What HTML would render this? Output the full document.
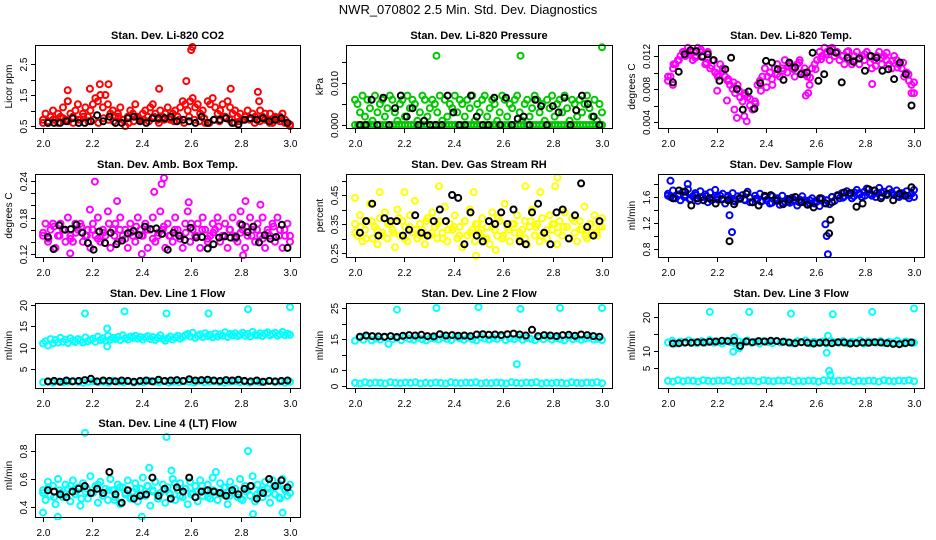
<!DOCTYPE html>
<html><head><meta charset="utf-8"><title>NWR_070802 Diagnostics</title>
<style>
html,body{margin:0;padding:0;background:#fff;}
svg{display:block;font-family:"Liberation Sans",sans-serif;}
</style></head>
<body>
<svg id="chart" width="936" height="540" viewBox="0 0 936 540" xmlns="http://www.w3.org/2000/svg">
<text x="468" y="14" text-anchor="middle" font-size="13" fill="#000">NWR_070802  2.5 Min. Std. Dev. Diagnostics</text>
</svg>
<script>
// ---- data ----
const xTicks = [2.0, 2.2, 2.4, 2.6, 2.8, 3.0];
const xTickLabels = ["2.0", "2.2", "2.4", "2.6", "2.8", "3.0"];

const co2Red = [0.7,0.9,0.6,0.8,1.0,0.7,0.9,0.8,1.1,0.7,1.3,0.9,0.8,1.0,1.2,0.7,0.9,1.1,0.8,1.0,1.2,1.4,1.3,1.5,1.1,1.5,1.2,0.9,1.0,0.8,0.9,1.1,0.7,0.5,0.8,1.0,0.9,1.2,0.8,0.7,0.9,1.0,0.8,1.1,1.2,0.9,0.7,1.0,0.8,0.9,1.1,0.7,0.9,1.0,0.8,1.1,1.3,1.2,1.0,1.3,1.4,1.1,1.2,0.9,1.0,0.6,1.3,1.2,1.4,1.1,0.9,1.0,1.2,0.8,1.3,1.1,0.9,1.0,0.8,0.9,0.7,0.8,1.0,0.7,0.9,0.8,0.7,1.0,0.8,0.9,0.7,0.9,0.6,0.8,0.7,0.8,0.9,0.7,0.6,0.5];
const co2RedLow = [0.6,0.65,0.7,0.6,0.75,0.65,0.6,0.7,0.8,0.65,0.7,0.6,0.75,0.7,0.65,0.8,0.7,0.6,0.65,0.75,0.7,0.65,0.8,0.6,0.7,0.75,0.65,0.7,0.6,0.8,0.7,0.65,0.75,0.6,0.7,0.65,0.8,0.7,0.6,0.65,0.7,0.75,0.6,0.65,0.7,0.6,0.75,0.65,0.6,0.55];
const co2OutX = [2.1,2.19,2.23,2.265,2.47,2.58,2.60,2.605,2.76,2.87,2.875,2.10];
const co2OutY = [1.65,1.7,1.85,1.85,1.7,1.95,2.95,3.05,1.7,1.6,1.3,1.3];
const co2Black = [0.6,0.6,0.6,0.65,0.75,0.6,0.6,0.65,0.85,0.65,0.8,0.6,0.6,0.75,0.8,0.65,0.6,0.75,0.75,0.75,0.8,0.65,0.7,0.65,0.6,0.8,0.6,0.7,0.7,0.75,0.6,0.55,0.7,0.75,0.7,0.75,0.65,0.7,0.75,0.6];

const presGreen = [0.006,0.005,0.003,0.007,0.002,0.006,0.004,0.001,0.007,0.003,0.005,0.006,0.002,0.004,0.007,0.006,0.003,0.001,0.005,0.006,0.002,0.007,0.004,0.006,0.005,0.001,0.003,0.007,0.006,0.002,0.004,0.006,0.005,0.003,0.007,0.001,0.006,0.002,0.005,0.004,0.007,0.003,0.006,0.005,0.002,0.006,0.004,0.007,0.001,0.005,0.003,0.006,0.007,0.002,0.004,0.006,0.005,0.001,0.003,0.007,0.006,0.002,0.005,0.004,0.006,0.007,0.003,0.001,0.005,0.006,0.002,0.004,0.007,0.006,0.003,0.005,0.001,0.006,0.004,0.007,0.002,0.005,0.006,0.003,0.007,0.004,0.001,0.006,0.005,0.002,0.006,0.003,0.005,0.007,0.004,0.002,0.006,0.001,0.005,0.003];
const presGreenZero = [0,0,0,0,0,0,0,0,0,0,0,0,0,0,0,0,0,0,0,0,0,0,0,0,0,0,0,0,0,0,0,0,0,0,0,0,0,0,0,0,0,0,0,0,0,0,0,0,0,0,0,0,0,0,0,0,0,0,0,0,0,0,0,0,0,0,0,0,0,0,0,0,0,0,0,0,0,0,0,0];
const presOutX = [2.33,2.67,3.0];
const presOutY = [0.0165,0.0165,0.0185];
const presBlack = [0,0,0.006,0,0.0065,0,0.004,0.007,0.002,0.004,0,0.001,0,0,0,0.007,0.003,0,0,0.007,0.002,0,0,0.0065,0,0.0065,0,0.0015,0.002,0,0.006,0.0045,0,0.0045,0.003,0.0065,0,0.0035,0.007,0.005,0.002,0];

const tempMag = [0.009,0.0095,0.0105,0.011,0.0115,0.012,0.0125,0.012,0.013,0.0125,0.0115,0.012,0.013,0.0125,0.012,0.011,0.0125,0.0105,0.0115,0.01,0.0095,0.011,0.0105,0.0095,0.009,0.0085,0.008,0.0075,0.0085,0.007,0.0065,0.0075,0.007,0.006,0.0055,0.0065,0.0085,0.009,0.0095,0.0105,0.0095,0.01,0.0085,0.0105,0.011,0.0095,0.0105,0.0115,0.01,0.011,0.0105,0.0095,0.011,0.0115,0.01,0.0105,0.0095,0.0085,0.0105,0.011,0.0115,0.0125,0.012,0.013,0.0125,0.0115,0.013,0.012,0.0125,0.0115,0.012,0.011,0.0125,0.0115,0.011,0.012,0.0125,0.011,0.012,0.0115,0.0125,0.012,0.0105,0.0115,0.012,0.0125,0.011,0.012,0.0115,0.011,0.0105,0.012,0.0115,0.011,0.0105,0.0095,0.01,0.009,0.0085,0.0075];
const tempMag2 = [0.0095,0.011,0.0115,0.0125,0.0122,0.0118,0.0128,0.0112,0.0108,0.0098,0.0102,0.0092,0.0088,0.0078,0.0072,0.0068,0.0062,0.0078,0.0082,0.0092,0.0098,0.0102,0.0108,0.0104,0.0112,0.0098,0.0094,0.0104,0.0116,0.0122,0.0128,0.0124,0.012,0.0126,0.0114,0.0118,0.0122,0.0112,0.0108,0.0118,0.0124,0.0114,0.0106,0.0112,0.0098,0.0088];
const tempOutX = [2.27,2.28,2.2,2.31,2.32,2.24,2.56,2.57,2.83,2.99,2.02];
const tempOutY = [0.0055,0.0045,0.0078,0.0047,0.0041,0.0066,0.0072,0.0075,0.0086,0.0075,0.0085];
const tempBlack = [0.0088,0.0101,0.0122,0.0127,0.0126,0.0119,0.0122,0.0115,0.0090,0.0104,0.0118,0.0080,0.0055,0.0077,0.0056,0.0087,0.0114,0.0112,0.0104,0.0091,0.0112,0.0106,0.0098,0.0100,0.0124,0.0090,0.0098,0.0126,0.0124,0.0088,0.0118,0.0113,0.0117,0.0102,0.0120,0.0118,0.0102,0.0104,0.0092,0.0112,0.0098,0.0060];

const ambMag = [0.15,0.17,0.14,0.16,0.17,0.13,0.15,0.17,0.16,0.14,0.18,0.15,0.14,0.17,0.16,0.17,0.14,0.15,0.16,0.13,0.17,0.15,0.18,0.14,0.16,0.15,0.19,0.13,0.16,0.17,0.14,0.18,0.15,0.16,0.13,0.17,0.15,0.14,0.18,0.16,0.15,0.17,0.13,0.16,0.18,0.14,0.15,0.19,0.16,0.13,0.17,0.15,0.14,0.18,0.16,0.15,0.13,0.17,0.19,0.14,0.16,0.15,0.17,0.13,0.18,0.16,0.14,0.15,0.17,0.16,0.18,0.14,0.15,0.17,0.13,0.16,0.18,0.15,0.14,0.17,0.16,0.13,0.15,0.18,0.16,0.14,0.17,0.15,0.18,0.13,0.16,0.15,0.17,0.14,0.18,0.16,0.13,0.15,0.17,0.14];
const ambMag2 = [0.155,0.145,0.165,0.15,0.16,0.145,0.155,0.165,0.15,0.16,0.145,0.155,0.17,0.15,0.16,0.145,0.155,0.165,0.15,0.16,0.145,0.155,0.165,0.15,0.16,0.145,0.155,0.17,0.15,0.16,0.145,0.155,0.165,0.15,0.16,0.145,0.155,0.165,0.15,0.16,0.145,0.155,0.165,0.15,0.16,0.15];
const ambOutX = [2.21,2.49,2.48,2.45,2.3,2.82,2.59,2.88,2.19,2.8,2.4,2.11,2.81];
const ambOutY = [0.239,0.245,0.235,0.222,0.207,0.207,0.205,0.201,0.193,0.19,0.12,0.121,0.118];
const ambBlack = [0.148,0.128,0.167,0.16,0.161,0.168,0.155,0.138,0.127,0.157,0.138,0.155,0.136,0.142,0.154,0.158,0.151,0.165,0.161,0.162,0.153,0.127,0.155,0.15,0.143,0.163,0.147,0.148,0.129,0.136,0.147,0.149,0.147,0.148,0.168,0.156,0.165,0.139,0.151,0.145,0.148,0.168,0.13];

const rhYel = [0.35,0.31,0.38,0.29,0.33,0.36,0.42,0.30,0.34,0.28,0.37,0.32,0.39,0.30,0.35,0.33,0.27,0.40,0.31,0.36,0.34,0.29,0.38,0.32,0.43,0.30,0.35,0.33,0.28,0.37,0.31,0.39,0.34,0.30,0.36,0.32,0.41,0.29,0.35,0.33,0.38,0.30,0.34,0.27,0.36,0.31,0.40,0.33,0.29,0.35,0.32,0.37,0.30,0.34,0.28,0.39,0.33,0.31,0.36,0.30,0.42,0.34,0.29,0.35,0.32,0.38,0.30,0.33,0.36,0.28,0.34,0.40,0.31,0.35,0.29,0.37,0.32,0.30,0.38,0.33,0.35,0.28,0.36,0.31,0.39,0.34,0.30,0.37,0.32,0.29,0.36,0.33,0.41,0.30,0.35,0.32,0.38,0.31,0.34,0.37];
const rhYel2 = [0.32,0.34,0.30,0.36,0.33,0.31,0.35,0.32,0.37,0.30,0.34,0.33,0.31,0.36,0.32,0.35,0.30,0.33,0.34,0.31,0.36,0.32,0.35,0.33,0.30,0.34,0.37,0.31,0.33,0.35,0.32,0.30,0.36,0.34,0.31,0.33,0.35,0.32,0.34,0.30,0.36,0.33,0.31,0.35,0.32,0.34];
const rhOutX = [2.0,2.1,2.2,2.34,2.48,2.69,2.82,2.81,2.75,2.49,2.57];
const rhOutY = [0.44,0.46,0.46,0.48,0.46,0.48,0.51,0.48,0.46,0.24,0.26];
const rhBlack = [0.32,0.36,0.42,0.31,0.37,0.36,0.36,0.31,0.33,0.38,0.32,0.31,0.36,0.40,0.36,0.45,0.44,0.28,0.39,0.31,0.29,0.36,0.35,0.39,0.35,0.40,0.29,0.28,0.39,0.42,0.32,0.28,0.39,0.40,0.30,0.38,0.49,0.34,0.31,0.36];

const flowBlue = [1.65,1.60,1.70,1.58,1.62,1.55,1.68,1.63,1.72,1.57,1.61,1.66,1.54,1.69,1.60,1.64,1.52,1.67,1.59,1.71,1.56,1.62,1.65,1.50,1.60,1.58,1.66,1.53,1.61,1.57,1.63,1.55,1.68,1.59,1.52,1.62,1.57,1.65,1.54,1.60,1.56,1.50,1.61,1.55,1.58,1.48,1.62,1.53,1.57,1.51,1.59,1.54,1.47,1.56,1.61,1.52,1.49,1.55,1.58,1.50,1.53,1.46,1.57,1.51,1.55,1.49,1.60,1.54,1.62,1.58,1.66,1.61,1.69,1.63,1.58,1.67,1.71,1.64,1.60,1.68,1.73,1.65,1.62,1.70,1.66,1.74,1.61,1.68,1.64,1.72,1.67,1.63,1.70,1.60,1.66,1.62,1.69,1.58,1.65,1.71];
const flowBlue2 = [1.62,1.58,1.64,1.60,1.56,1.63,1.59,1.61,1.55,1.60,1.57,1.62,1.54,1.58,1.56,1.52,1.57,1.53,1.55,1.51,1.54,1.50,1.53,1.56,1.52,1.55,1.50,1.54,1.58,1.55,1.60,1.63,1.59,1.64,1.61,1.66,1.62,1.65,1.60,1.67,1.63,1.66,1.61,1.65,1.62,1.60];
const flowOutX = [2.25,2.26,2.64,2.645,2.65,2.01,2.08];
const flowOutY = [1.32,1.06,1.18,1.0,0.72,1.85,1.8];
const flowBlack = [1.58,1.70,1.68,1.47,1.58,1.55,1.58,1.50,1.56,1.55,1.49,1.58,1.65,1.52,1.47,1.62,1.63,1.55,1.49,1.56,1.60,1.52,1.48,1.44,1.58,1.50,1.52,1.62,1.67,1.66,1.45,1.50,1.72,1.70,1.58,1.65,1.55,1.65,1.62,1.75];
const flowBlackOutX = [2.25,2.655,2.66];
const flowBlackOutY = [0.92,1.04,1.25];

const l1High = [11,11.5,10.5,12,11,11.8,11.2,12.3,11.4,11.9,11.1,12.2,11.6,11.3,12,11.7,11.2,12.4,11.5,11.9,12.1,11.4,12.6,11.8,12.2,11.6,12.8,11.9,12.3,12,12.5,11.8,12.9,12.2,11.9,12.6,12.3,12.8,12.1,12.5,11.9,12.4,12.7,12.0,12.5,11.8,12.3,12.9,12.1,11.6,12.2,12.6,11.9,12.4,12.8,12.1,12.5,12.9,13.2,12.6,13.5,12.3,12.8,13.1,12.5,13.4,12.7,13.0,12.4,13.3,12.6,13.1,12.8,13.6,12.5,13.2,12.9,13.4,12.7,13.0,13.5,12.8,13.2,12.6,13.7,13.0,12.9,13.4,12.7,13.3,13.6,12.9,13.2,13.5,12.8,13.1,13.7,12.9,13.3,13.0];
const l1Low = [1.9,2.0,1.8,2.1,1.9,2.0,2.2,1.9,1.8,2.0,2.1,1.9,2.0,1.8,2.2,2.0,1.9,2.1,1.8,2.0,1.9,2.2,2.0,1.9,2.1,1.8,2.0,1.9,2.1,2.0,1.8,2.2,1.9,2.0,2.1,1.9,1.8,2.0,2.1,1.9,2.0,1.8,2.1,1.9,2.0,2.2,1.9,2.0,1.8,2.0];
const l1OutX = [2.17,2.33,2.5,2.67,2.83,3.0,2.26,2.26];
const l1OutY = [18,18.5,18,18,19,19.5,14.5,10.3];
const l1Black = [2.1,2.2,2.0,2.3,2.1,2.2,2.4,2.7,2.1,2.3,2.2,2.1,2.3,2.2,2.0,2.2,2.3,2.1,2.5,2.2,2.3,2.4,2.2,2.6,2.3,2.4,2.5,2.3,2.2,2.4,2.3,2.5,2.2,2.1,2.3,2.0,2.2,2.1,2.2,2.3];

const l2High = [14.5,15.5,14.8,15.8,14.6,15.2,14.9,15.6,13.5,15.0,15.3,14.7,15.7,15.1,14.8,15.5,15.0,14.6,15.4,15.2,14.9,15.6,15.1,14.7,15.8,15.3,14.8,15.5,15.0,14.6,15.7,15.2,14.9,15.4,15.1,15.8,14.7,15.3,15.0,15.6,14.8,15.4,15.1,14.7,15.5,15.0,15.7,14.9,15.3,15.1,14.6,15.6,15.0,15.4,14.8,15.2,15.5,14.9,15.1,14.7];
const l2Low = [1.0,0.8,1.2,0.9,1.1,1.0,0.8,1.2,1.0,0.9,1.1,1.0,1.2,0.8,1.0,0.9,1.1,1.0,0.8,1.2,1.0,0.9,1.1,1.0,1.2,0.8,1.0,0.9,1.1,1.0,0.8,1.2,1.0,0.9,1.1,1.0,1.2,0.8,1.0,0.9,1.1,1.0,0.8,1.2,1.0,0.9,1.1,1.0,1.2,0.9];
const l2OutX = [2.17,2.33,2.5,2.67,2.83,3.0,2.655];
const l2OutY = [24.5,25,25.3,24.7,25,25,7];
const l2Black = [15.8,16.2,16.0,15.9,15.8,16.0,15.7,16.1,16.3,16.2,16.4,16.0,15.9,16.6,16.2,16.3,16.1,16.2,16.0,16.5,16.6,16.4,16.5,16.3,16.6,16.8,16.5,16.2,18.0,16.0,16.3,16.2,16.0,16.3,16.4,16.1,16.5,16.3,16.0,15.8];

const l3High = [12.5,13.0,12.2,12.8,12.4,13.1,12.6,12.3,12.9,12.5,13.2,12.4,12.7,12.2,13.0,12.6,12.3,12.8,12.5,13.1,12.4,12.7,12.2,12.9,12.6,12.3,13.0,12.5,12.8,12.4,12.2,12.9,12.6,13.1,12.3,12.7,12.5,12.8,12.2,13.0,12.6,12.4,12.9,12.3,12.7,12.5,13.1,12.2,12.8,12.6,12.4,12.9,12.3,12.7,12.5,13.0,12.2,12.8,12.6,12.4];
const l3Low = [1.2,1.0,1.4,1.1,1.3,1.2,1.0,1.4,1.2,1.1,1.3,1.2,1.4,1.0,1.2,1.1,1.3,1.2,1.0,1.4,1.2,1.1,1.3,1.2,1.4,1.0,1.2,1.1,1.3,1.2,1.0,1.4,1.2,1.1,1.3,1.2,1.4,1.0,1.2,1.1,1.3,1.2,1.0,1.4,1.2,1.1,1.3,1.2,1.4,1.1];
const l3OutX = [2.17,2.33,2.5,2.67,2.83,3.0,2.265,2.27,2.29,2.645,2.655,2.65,2.66];
const l3OutY = [21.5,21.5,21,20.8,21.5,22.5,9.8,14,10.8,9.5,4.2,14.5,3];
const l3Black = [12.2,12.3,12.5,12.4,12.6,12.5,12.7,12.8,13.0,12.9,13.0,11.5,12.8,12.6,12.9,12.8,13.0,12.9,12.7,12.5,12.3,12.6,12.4,12.2,12.4,12.5,12.3,12.6,12.5,12.2,12.3,12.5,12.4,12.6,12.5,12.3,12.1,12.0,12.3,12.5];

const l4Cyan = [0.52,0.45,0.58,0.48,0.55,0.42,0.60,0.50,0.47,0.56,0.53,0.44,0.59,0.49,0.54,0.41,0.57,0.51,0.46,0.62,0.50,0.55,0.43,0.58,0.48,0.53,0.45,0.60,0.52,0.47,0.56,0.42,0.54,0.49,0.59,0.46,0.51,0.57,0.44,0.53,0.61,0.48,0.55,0.41,0.52,0.58,0.46,0.50,0.56,0.43,0.54,0.49,0.60,0.45,0.52,0.57,0.47,0.53,0.42,0.58,0.50,0.55,0.44,0.59,0.48,0.52,0.56,0.46,0.61,0.51,0.45,0.57,0.49,0.54,0.42,0.58,0.50,0.53,0.47,0.60,0.45,0.55,0.52,0.48,0.62,0.44,0.56,0.51,0.47,0.58,0.53,0.43,0.59,0.49,0.55,0.46,0.60,0.52,0.48,0.56];
const l4Cyan2 = [0.50,0.54,0.47,0.52,0.49,0.55,0.51,0.46,0.53,0.50,0.56,0.48,0.52,0.45,0.54,0.50,0.47,0.53,0.49,0.55,0.51,0.46,0.52,0.50,0.57,0.48,0.53,0.49,0.51,0.55,0.47,0.52,0.50,0.54,0.48,0.53,0.46,0.51,0.55,0.49,0.52,0.50,0.54,0.47,0.53,0.50];
const l4OutX = [2.17,2.5,2.83,2.43,2.52,2.7,2.0,2.06,2.4,2.85,2.97];
const l4OutY = [0.93,0.9,0.8,0.68,0.66,0.65,0.36,0.33,0.33,0.35,0.36];
const l4Black = [0.52,0.51,0.49,0.47,0.51,0.53,0.55,0.50,0.53,0.50,0.65,0.49,0.43,0.52,0.46,0.48,0.49,0.61,0.48,0.53,0.46,0.54,0.51,0.61,0.47,0.51,0.52,0.51,0.50,0.48,0.52,0.49,0.53,0.55,0.46,0.50,0.60,0.55,0.59,0.54];

// ---- layout ----
const cols = [{x0:35,x1:300,a:43,b:290},{x0:346,x1:612,a:355,b:602},{x0:658,x1:924,a:668,b:914}];
const rows = [{y0:45,y1:128,t:35},{y0:174,y1:257,t:164},{y0:303,y1:388,t:293},{y0:434,y1:517,t:423}];

const NS = "http://www.w3.org/2000/svg";
const svg = document.getElementById("chart");
function mk(tag, attrs, parent){
  const e = document.createElementNS(NS, tag);
  for (const k in attrs) e.setAttribute(k, attrs[k]);
  (parent||svg).appendChild(e);
  return e;
}

const panels = [
 {slug:"co2",title:"Stan. Dev. Li-820 CO2",ylab:"Licor ppm",c:0,r:0,ya:[0.5,126],yb:[2.5,64],ticks:[0.5,1.0,1.5,2.0,2.5],labels:{"0.5":"0.5","1.5":"1.5","2.5":"2.5"},
  series:[[co2Red,"#ff0000"],[co2RedLow,"#ff0000"]],outs:[[co2OutX,co2OutY,"#ff0000"]],black:co2Black,blackOut:null},
 {slug:"pressure",title:"Stan. Dev. Li-820 Pressure",ylab:"kPa",c:1,r:0,ya:[0,125],yb:[0.010,83],ticks:[0,0.005,0.010,0.015],labels:{"0":"0.000","0.01":"0.010"},
  series:[[presGreenZero,"#00c800"],[presGreen,"#00c800"]],outs:[[presOutX,presOutY,"#00c800"]],black:presBlack,blackOut:null},
 {slug:"temp",title:"Stan. Dev. Li-820 Temp.",ylab:"degrees C",c:2,r:0,ya:[0.012,56],yb:[0.004,122],ticks:[0.004,0.006,0.008,0.010,0.012],labels:{"0.004":"0.004","0.008":"0.008","0.012":"0.012"},
  series:[[tempMag,"#ff00ff"],[tempMag2,"#ff00ff"]],outs:[[tempOutX,tempOutY,"#ff00ff"]],black:tempBlack,blackOut:null},
 {slug:"amb-temp",title:"Stan. Dev. Amb. Box Temp.",ylab:"degrees C",c:0,r:1,ya:[0.24,181],yb:[0.12,254],ticks:[0.12,0.14,0.16,0.18,0.20,0.22,0.24],labels:{"0.12":"0.12","0.18":"0.18","0.24":"0.24"},
  series:[[ambMag,"#ff00ff"],[ambMag2,"#ff00ff"]],outs:[[ambOutX,ambOutY,"#ff00ff"]],black:ambBlack,blackOut:null},
 {slug:"rh",title:"Stan. Dev. Gas Stream RH",ylab:"percent",c:1,r:1,ya:[0.45,195],yb:[0.25,253],ticks:[0.25,0.30,0.35,0.40,0.45,0.50],labels:{"0.25":"0.25","0.35":"0.35","0.45":"0.45"},
  series:[[rhYel,"#ffff00"],[rhYel2,"#ffff00"]],outs:[[rhOutX,rhOutY,"#ffff00"]],black:rhBlack,blackOut:null},
 {slug:"sample-flow",title:"Stan. Dev. Sample Flow",ylab:"ml/min",c:2,r:1,ya:[1.6,197],yb:[0.8,249],ticks:[0.8,1.0,1.2,1.4,1.6,1.8],labels:{"0.8":"0.8","1.2":"1.2","1.6":"1.6"},
  series:[[flowBlue,"#0000ff"],[flowBlue2,"#0000ff"]],outs:[[flowOutX,flowOutY,"#0000ff"]],black:flowBlack,blackOut:[flowBlackOutX,flowBlackOutY]},
 {slug:"line1",title:"Stan. Dev. Line 1 Flow",ylab:"ml/min",c:0,r:2,ya:[20,305],yb:[5,369],ticks:[5,10,15,20],labels:{"5":"5","10":"10","15":"15","20":"20"},
  series:[[l1High,"#00ffff"],[l1Low,"#00ffff"]],outs:[[l1OutX,l1OutY,"#00ffff"]],black:l1Black,blackOut:null},
 {slug:"line2",title:"Stan. Dev. Line 2 Flow",ylab:"ml/min",c:1,r:2,ya:[25,308],yb:[0,386],ticks:[0,5,10,15,20,25],labels:{"0":"0","5":"5","15":"15","25":"25"},
  series:[[l2High,"#00ffff"],[l2Low,"#00ffff"]],outs:[[l2OutX,l2OutY,"#00ffff"]],black:l2Black,blackOut:null},
 {slug:"line3",title:"Stan. Dev. Line 3 Flow",ylab:"ml/min",c:2,r:2,ya:[20,317],yb:[10,351],ticks:[5,10,15,20],labels:{"5":"5","10":"10","20":"20"},
  series:[[l3High,"#00ffff"],[l3Low,"#00ffff"]],outs:[[l3OutX,l3OutY,"#00ffff"]],black:l3Black,blackOut:null},
 {slug:"line4",title:"Stan. Dev. Line 4 (LT) Flow",ylab:"ml/min",c:0,r:3,ya:[0.8,451],yb:[0.4,507],ticks:[0.4,0.6,0.8],labels:{"0.4":"0.4","0.6":"0.6","0.8":"0.8"},
  series:[[l4Cyan,"#00ffff"],[l4Cyan2,"#00ffff"]],outs:[[l4OutX,l4OutY,"#00ffff"]],black:l4Black,blackOut:null}
];

function pt(g, x, y, color, name){
  const c = mk("circle", {cx:x.toFixed(1), cy:y.toFixed(1), r:3, fill:"none", stroke:color, "stroke-width":2}, g);
  
  
}

panels.forEach(p => {
  const col = cols[p.c], row = rows[p.r];
  const xs = v => col.a + (v - 2) * (col.b - col.a);
  const ys = v => p.ya[1] + (v - p.ya[0]) * (p.yb[1] - p.ya[1]) / (p.yb[0] - p.ya[0]);
  const g = mk("g", {});
  
  

  const t = mk("text", {x:(col.x0+col.x1)/2, y:row.t+4, "text-anchor":"middle", "font-size":11, "font-weight":"bold"}, g);
  t.textContent = p.title;
  
  

  const cid = "clip-" + p.slug;
  const cp = mk("clipPath", {id:cid}, g);
  mk("rect", {x:col.x0-3, y:row.y0-5, width:col.x1-col.x0+6, height:row.y1-row.y0+8}, cp);
  const pg = mk("g", {"clip-path":"url(#"+cid+")"}, g);
  
  

  p.series.forEach(([vals, color]) => {
    const n = vals.length;
    vals.forEach((v, i) => pt(pg, xs(2 + i/(n-1)), ys(v), color, p.slug + '-point'));
  });
  p.outs.forEach(([ox, oy, color]) => {
    ox.forEach((x, i) => pt(pg, xs(x), ys(oy[i]), color, p.slug + '-outlier'));
  });
  const nb = p.black.length;
  p.black.forEach((v, i) => pt(pg, xs(2.02 + 0.97*i/(nb-1)), ys(v), "#000", p.slug + '-ref-point'));
  if (p.blackOut) p.blackOut[0].forEach((x, i) => pt(pg, xs(x), ys(p.blackOut[1][i]), "#000", p.slug + '-ref-outlier'));

  const fr = mk("rect", {x:col.x0+0.5, y:row.y0+0.5, width:col.x1-col.x0, height:row.y1-row.y0, fill:"none", stroke:"#000", "stroke-width":1}, g);
  
  

  const xa = mk("g", {}, g);
  
  
  xTicks.forEach((v, i) => {
    const x = Math.round(xs(v)) + 0.5;
    mk("line", {x1:x, x2:x, y1:row.y1+1, y2:row.y1+5, stroke:"#000"}, xa);
    const tl = mk("text", {x:x, y:row.y1+19, "text-anchor":"middle", "font-size":10}, xa);
    tl.textContent = xTickLabels[i];
    
    
  });
  const ya = mk("g", {}, g);
  
  
  p.ticks.forEach(v => {
    const y = Math.round(ys(v)) + 0.5;
    if (y < row.y0 - 1 || y > row.y1 + 2) return;
    mk("line", {x1:col.x0-4, x2:col.x0, y1:y, y2:y, stroke:"#000"}, ya);
    const key = String(+v.toFixed(4));
    if (p.labels[key] !== undefined) {
      const lx = col.x0 - 8;
      const tl = mk("text", {x:lx, y:y, "text-anchor":"middle", "font-size":10, transform:"rotate(-90 "+lx+" "+y+")"}, ya);
      tl.textContent = p.labels[key];
      
      
    }
  });
  const tx = col.x0 - 23, ty = (row.y0 + row.y1)/2;
  const yt = mk("text", {x:tx, y:ty, "text-anchor":"middle", "font-size":10, transform:"rotate(-90 "+tx+" "+ty+")"}, ya);
  yt.textContent = p.ylab;
  
  
});
</script>
</body></html>
